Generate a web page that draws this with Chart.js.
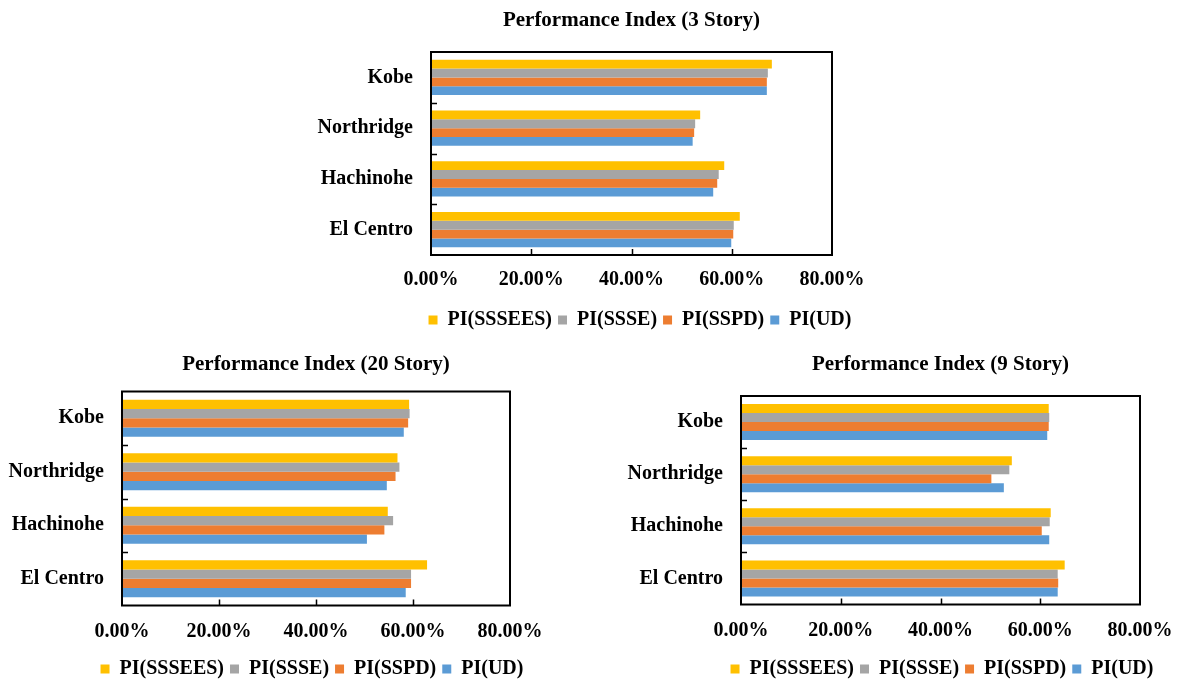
<!DOCTYPE html>
<html>
<head>
<meta charset="utf-8">
<script src="https://cdn.jsdelivr.net/npm/chart.js@4.4.1/dist/chart.umd.min.js"></script>
<style>
  html, body { margin: 0; padding: 0; background: #ffffff; }
  body { width: 1180px; height: 682px; position: relative; overflow: hidden; }
  .box { position: absolute; }
  .box canvas { display: block; }
</style>
</head>
<body>
<div class="box" style="left:240px;top:0;width:800px;height:340px"><canvas id="c3"></canvas></div>
<div class="box" style="left:0;top:340px;width:624px;height:349px"><canvas id="c20"></canvas></div>
<div class="box" style="left:590px;top:340px;width:704px;height:349px"><canvas id="c9"></canvas></div>
<script>
// Ground motions (top to bottom) and design series
const categories = ['Kobe', 'Northridge', 'Hachinohe', 'El Centro'];
const seriesNames = ['PI(SSSEES)', 'PI(SSSE)', 'PI(SSPD)', 'PI(UD)'];
const seriesColors = ['#FFC000', '#A5A5A5', '#ED7D31', '#5B9BD5'];
const xTickValues = [0, 20, 40, 60, 80];

// Performance index, % — 3 story frame
const story3_SSSEES = [68.0, 53.7, 58.5, 61.6];
const story3_SSSE   = [67.2, 52.7, 57.4, 60.4];
const story3_SSPD   = [67.0, 52.5, 57.1, 60.3];
const story3_UD     = [67.0, 52.2, 56.3, 59.9];

// Performance index, % — 20 story frame
const story20_SSSEES = [59.2, 56.8, 54.8, 62.9];
const story20_SSSE   = [59.3, 57.2, 55.9, 59.6];
const story20_SSPD   = [59.0, 56.4, 54.1, 59.6];
const story20_UD     = [58.1, 54.6, 50.5, 58.5];

// Performance index, % — 9 story frame
const story9_SSSEES = [61.7, 54.3, 62.1, 64.9];
const story9_SSSE   = [61.8, 53.8, 61.9, 63.5];
const story9_SSPD   = [61.7, 50.2, 60.3, 63.6];
const story9_UD     = [61.4, 52.7, 61.8, 63.5];

const FONT = "'Liberation Serif', 'Times New Roman', serif";

// Plot frame plus short inward tick marks on both axes
const framePlugin = {
  id: 'frameTicks',
  afterDatasetsDraw(chart) {
    const { ctx, chartArea: a, scales } = chart;
    ctx.save();
    ctx.strokeStyle = '#000';
    ctx.lineWidth = 2;
    ctx.strokeRect(a.left, a.top, a.right - a.left, a.bottom - a.top);
    ctx.lineWidth = 1.5;
    ctx.beginPath();
    xTickValues.slice(1, -1).forEach(v => {
      const px = Math.round(scales.x.getPixelForValue(v)) + 0.5;
      ctx.moveTo(px, a.bottom);
      ctx.lineTo(px, a.bottom - 6);
    });
    for (let i = 1; i < categories.length; i++) {
      const py = Math.round((scales.y.getPixelForValue(i - 1) + scales.y.getPixelForValue(i)) / 2) + 0.5;
      ctx.moveTo(a.left, py);
      ctx.lineTo(a.left + 6, py);
    }
    ctx.stroke();
    ctx.restore();
  }
};

function makeChart(id, title, series, lay) {
  const datasets = series.map((vals, i) => ({
    label: seriesNames[i],
    data: vals,
    xAxisID: 'x',
    yAxisID: 'y',
    backgroundColor: seriesColors[i],
    borderWidth: 0,
    categoryPercentage: 0.69,
    barPercentage: 1.0
  }));
  return new Chart(document.getElementById(id), {
    type: 'bar',
    data: { labels: categories, datasets },
    plugins: [framePlugin],
    options: {
      indexAxis: 'y',
      responsive: true,
      maintainAspectRatio: false,
      animation: false,
      layout: { padding: 0 },
      plugins: {
        title: {
          display: true,
          text: title,
          fullSize: false,
          color: '#000',
          font: { family: FONT, size: 21, weight: 'bold', lineHeight: 1.2 },
          padding: { top: lay.titleTop, bottom: lay.titleBottom }
        },
        legend: {
          position: 'bottom',
          fullSize: true,
          labels: {
            color: '#000',
            boxWidth: 9,
            boxHeight: 9,
            padding: 6,
            font: { family: FONT, size: 20, weight: 'bold' }
          }
        },
        tooltip: { enabled: false }
      },
      scales: {
        x: {
          min: 0,
          max: 80,
          afterBuildTicks(scale) { scale.ticks = xTickValues.map(v => ({ value: v })); },
          afterFit(scale) { scale.height = lay.xHeight; },
          grid: { display: false, drawTicks: false },
          border: { display: false },
          ticks: {
            padding: lay.xPad,
            color: '#000',
            font: { family: FONT, size: 20, weight: 'bold' },
            callback: v => v.toFixed(2) + '%'
          }
        },
        y: {
          afterFit(scale) { scale.width = lay.yWidth; },
          grid: { display: false, drawTicks: false },
          border: { display: false },
          ticks: {
            padding: 18,
            color: '#000',
            font: { family: FONT, size: 20, weight: 'bold' }
          }
        },
        // empty right-hand margin so the legend centres under the plot
        margin: {
          type: 'linear',
          position: 'right',
          afterFit(scale) { scale.width = lay.rightWidth; },
          grid: { display: false, drawTicks: false },
          border: { display: false },
          ticks: { display: false }
        }
      }
    }
  });
}

makeChart('c3', 'Performance Index (3 Story)',
  [story3_SSSEES, story3_SSSE, story3_SSPD, story3_UD],
  { yWidth: 191, rightWidth: 208, titleTop: 8.4, titleBottom: 18.4, xHeight: 49, xPad: 13 });

makeChart('c20', 'Performance Index (20 Story)',
  [story20_SSSEES, story20_SSSE, story20_SSPD, story20_UD],
  { yWidth: 122, rightWidth: 114, titleTop: 12, titleBottom: 14.3, xHeight: 47.5, xPad: 14 });

makeChart('c9', 'Performance Index (9 Story)',
  [story9_SSSEES, story9_SSSE, story9_SSPD, story9_UD],
  { yWidth: 151, rightWidth: 154, titleTop: 12, titleBottom: 18.8, xHeight: 48.5, xPad: 14 });
</script>
</body>
</html>
